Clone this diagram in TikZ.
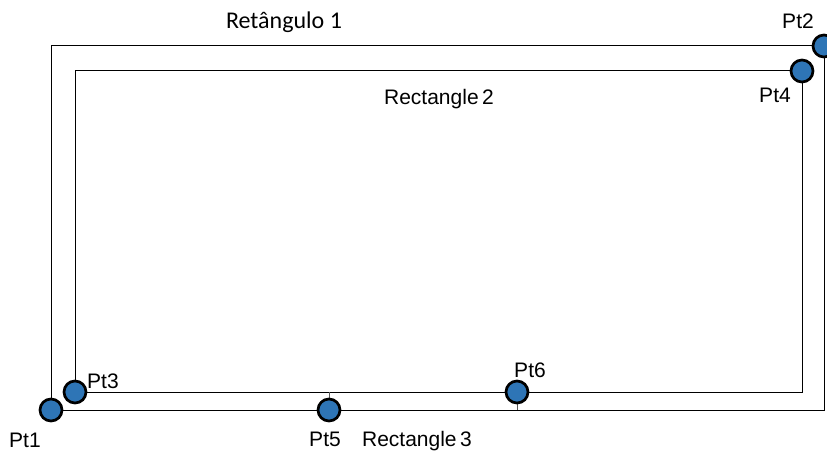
\documentclass[tikz,border=0pt]{standalone}
\usepackage{fontspec}
\setmainfont{Liberation Sans}
\newfontfamily\calibrifont{Carlito}
\usetikzlibrary{calc}
\definecolor{ptblue}{RGB}{46,117,182}

\tikzset{
  pt/.style={fill=ptblue, draw=black, line width=2.7pt},
  lbl/.style={font=\fontsize{21}{24}\selectfont, inner sep=0pt},
}

\begin{document}
\begin{tikzpicture}[x=1pt,y=-1pt]
  \useasboundingbox (0,0) rectangle (827,452);
      \coordinate (P1) at (51,410);
      \coordinate (P2) at (824,46);
      \coordinate (P3) at (75,392);
      \coordinate (P4) at (802,71);
      \coordinate (P5) at (329,410);
      \coordinate (P6) at (517,392);

      % RECTANGLES
  	  \draw[line width=1pt] (P1) rectangle (P2);
  	  \draw[line width=1pt] (P3) rectangle (P4);
  	  \draw[gray!70!black, line width=0.8pt] (P5) -- (P5 |- P3);
  	  \draw[gray!70!black, line width=0.8pt] (P6) -- (P6 |- P1);

	  % POINTS
  	  \filldraw[pt] (P1) circle (11);
  	  \filldraw[pt] (P2) circle (11);
  	  \filldraw[pt] (P3) circle (11);
  	  \filldraw[pt] (P4) circle (11);
  	  \filldraw[pt] (P5) circle (11);
  	  \filldraw[pt] (P6) circle (11);

	  % LABELS
  	  \node[lbl] (l1) at (25,440) {Pt1};
  	  \node[lbl] (l2) at (798,21) {Pt2};
  	  \node[lbl] (l3) at (103,381) {Pt3};
  	  \node[lbl] (l4) at (775,95) {Pt4};
  	  \node[lbl] (l5) at (325,439) {Pt5};
  	  \node[lbl] (l6) at (530,370) {Pt6};
  	  \node[font=\calibrifont\fontsize{24}{28}\selectfont, inner sep=0pt] (r1) at (284,22) {Retângulo 1};
  	  \node[lbl] (r2) at (439,99) {Rectangle\,2};
  	  \node[lbl] (r3) at (417,441) {Rectangle\,3};
\end{tikzpicture}
\end{document}
